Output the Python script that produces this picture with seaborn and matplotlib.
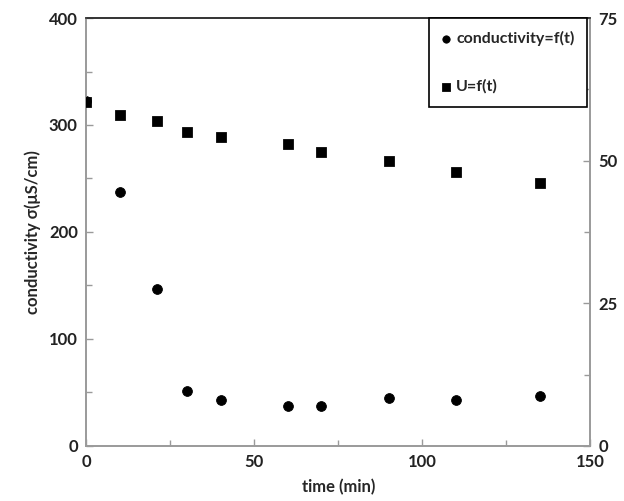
import pandas as pd
import seaborn as sns
import numpy as np
import matplotlib.pyplot as plt
from matplotlib.ticker import MultipleLocator

sns.set_style('white')
plt.rcParams['font.family'] = ['Lato', 'DejaVu Sans']

# data
time_min = [0, 10, 21, 30, 40, 60, 70, 90, 110, 135]
conductivity = [322, 237, 147, 51, 43, 37, 37, 44.5, 42.7, 46.4]
voltage_u = [60.2, 58.0, 57.0, 55.1, 54.1, 53.0, 51.6, 50.0, 48.0, 46.0]

df = pd.DataFrame({'time': time_min, 'cond': conductivity, 'U': voltage_u})

fig = plt.figure(figsize=(6.24, 5.01), dpi=100)
ax = fig.add_axes([0.138, 0.110, 0.808, 0.854])
ax2 = ax.twinx()

sns.scatterplot(data=df, x='time', y='cond', ax=ax, marker='o', s=50,
                color='black', edgecolor='black', label='conductivity=f(t)', legend=False, zorder=3)
sns.scatterplot(data=df, x='time', y='U', ax=ax2, marker='s', s=50,
                color='black', edgecolor='black', label='U=f(t)', legend=False, zorder=3)

ax.set_xlim(0, 150)
ax.set_ylim(0, 400)
ax2.set_ylim(0, 75)

ax.xaxis.set_major_locator(MultipleLocator(50))
ax.xaxis.set_minor_locator(MultipleLocator(25))
ax.yaxis.set_major_locator(MultipleLocator(100))
ax.yaxis.set_minor_locator(MultipleLocator(50))
ax2.yaxis.set_major_locator(MultipleLocator(25))
ax2.yaxis.set_minor_locator(MultipleLocator(12.5))

gray = '#9a9a9a'
for a in (ax, ax2):
    for side in ['left', 'bottom', 'right']:
        a.spines[side].set_color(gray)
        a.spines[side].set_linewidth(1.2)
    a.spines['top'].set_color('#333333')
    a.spines['top'].set_linewidth(1.2)
    a.tick_params(which='major', direction='in', length=5, width=1, color=gray,
                  labelsize=12, pad=6)
    a.tick_params(which='minor', direction='in', length=4, width=1, color=gray)
ax.tick_params(axis='y', which='both', left=True, right=False)
ax.tick_params(axis='x', which='both', bottom=True)
ax2.tick_params(axis='y', which='both', right=True, left=False)

for lab in ax.get_xticklabels() + ax.get_yticklabels() + ax2.get_yticklabels():
    lab.set_fontweight('bold')
    lab.set_color('#222222')

ax.set_xlabel('time (min)', fontsize=12, fontweight='bold', labelpad=6)
ax.set_ylabel('conductivity σ(μS/cm)', fontsize=12, fontweight='bold', labelpad=6)
ax2.set_ylabel('')

h1, l1 = ax.get_legend_handles_labels()
h2, l2 = ax2.get_legend_handles_labels()
leg = ax2.legend(h1 + h2, l1 + l2, loc='upper right', bbox_to_anchor=(0.994, 1.0),
                 borderaxespad=0, fancybox=False, frameon=True, edgecolor='black',
                 framealpha=1, handlelength=0.5, handletextpad=0.4,
                 labelspacing=2.1, borderpad=0.8,
                 markerscale=0.75, prop={'size': 11.5, 'weight': 'bold'})
leg.get_frame().set_linewidth(1.2)

fig.savefig('out.png', dpi=100)
